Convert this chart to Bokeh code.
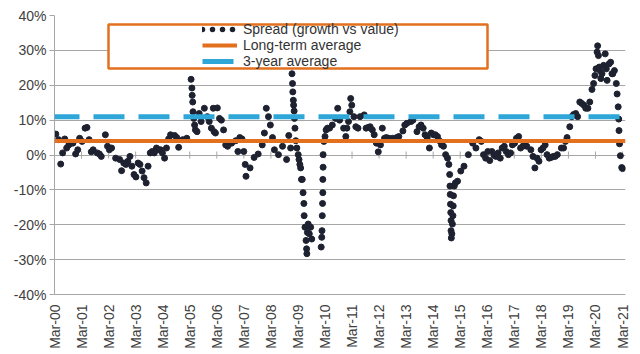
import numpy as np
from bokeh.plotting import figure
from bokeh.models import (Span, Legend, LegendItem, BoxAnnotation, FixedTicker, Range1d)
from bokeh.embed import file_html
from bokeh.resources import INLINE

# ---- data (x = years since Mar-2000, y = spread in %) ----
year_labels = ["Mar-00", "Mar-01", "Mar-02", "Mar-03", "Mar-04", "Mar-05", "Mar-06",
               "Mar-07", "Mar-08", "Mar-09", "Mar-10", "Mar-11", "Mar-12", "Mar-13",
               "Mar-14", "Mar-15", "Mar-16", "Mar-17", "Mar-18", "Mar-19", "Mar-20", "Mar-21"]
year_pos = [0, 1, 2, 3, 4, 5, 6, 7, 8, 9, 10, 11, 12, 13, 14, 15, 16, 17, 18, 19, 20, 21]

spread_t = [0.05, 0.15, 0.23, 0.30, 0.38, 0.45, 0.53, 0.68, 0.78, 0.86, 0.93, 1.02, 1.13, 1.20,
            1.28, 1.36, 1.43, 1.58, 1.66, 1.73, 1.88, 1.96, 2.03, 2.11, 2.26, 2.41, 2.48, 2.56,
            2.64, 2.71, 2.79, 2.86, 2.94, 3.01, 3.09, 3.16, 3.24, 3.31, 3.39, 3.46, 3.54, 3.61,
            3.69, 3.77, 3.84, 3.92, 3.99, 4.07, 4.14, 4.22, 4.29, 4.44, 4.52, 4.59, 4.74, 4.89,
            5.05, 5.08, 5.09, 5.11, 5.12, 5.15, 5.18, 5.21, 5.27, 5.35, 5.42, 5.54, 5.65, 5.72,
            5.80, 5.87, 5.90, 5.95, 6.02, 6.10, 6.17, 6.25, 6.33, 6.40, 6.55, 6.70, 6.78, 6.85,
            6.93, 7.00, 7.05, 7.08, 7.23, 7.38, 7.53, 7.68, 7.76, 7.83, 7.91, 7.98, 8.06, 8.13,
            8.28, 8.43, 8.58, 8.66, 8.73, 8.78, 8.80, 8.81, 8.83, 8.84, 8.86, 8.87, 8.89, 8.92,
            8.96, 9.01, 9.04, 9.07, 9.10, 9.13, 9.16, 9.19, 9.22, 9.23, 9.26, 9.30, 9.32, 9.33,
            9.35, 9.38, 9.42, 9.47, 9.51, 9.86, 9.88, 9.89, 9.90, 9.91, 9.92, 9.92, 9.93, 9.93,
            9.96, 10.00, 10.04, 10.09, 10.17, 10.27, 10.39, 10.47, 10.54, 10.69, 10.77, 10.81,
            10.87, 10.92, 10.95, 10.99, 11.07, 11.14, 11.22, 11.30, 11.45, 11.52, 11.60, 11.67,
            11.75, 11.82, 11.90, 11.97, 12.05, 12.12, 12.20, 12.27, 12.35, 12.42, 12.50, 12.65,
            12.73, 12.88, 12.95, 13.03, 13.18, 13.25, 13.40, 13.48, 13.55, 13.63, 13.70, 13.78,
            13.86, 13.93, 14.01, 14.08, 14.16, 14.23, 14.31, 14.38, 14.46, 14.53, 14.58, 14.61,
            14.62, 14.63, 14.64, 14.65, 14.66, 14.66, 14.67, 14.69, 14.71, 14.73, 14.74, 14.75,
            14.78, 14.82, 14.90, 15.02, 15.14, 15.30, 15.46, 15.58, 15.70, 15.78, 15.86, 15.94,
            16.02, 16.09, 16.17, 16.25, 16.32, 16.40, 16.48, 16.55, 16.63, 16.70, 16.78, 16.86,
            16.93, 17.01, 17.08, 17.16, 17.23, 17.31, 17.38, 17.46, 17.61, 17.69, 17.76, 17.84,
            17.91, 17.99, 18.06, 18.14, 18.21, 18.29, 18.36, 18.44, 18.51, 18.59, 18.74, 18.82,
            18.89, 18.95, 19.05, 19.12, 19.19, 19.27, 19.34, 19.42, 19.49, 19.57, 19.64, 19.72,
            19.79, 19.87, 19.93, 19.98, 20.02, 20.06, 20.08, 20.11, 20.14, 20.17, 20.20, 20.24,
            20.30, 20.36, 20.40, 20.43, 20.50, 20.56, 20.61, 20.64, 20.70, 20.77, 20.80, 20.84,
            20.86, 20.87, 20.89, 20.92, 20.97, 21.00]

spread_v = [6.0, 4.4, -2.6, 0.6, 4.6, 2.0, 2.9, 3.4, 0.3, 1.5, 4.8, 3.9, 7.7, 7.9,
            4.4, 0.9, 1.5, 0.6, 0.3, -0.4, 5.8, 2.5, 1.5, 2.0, -0.9, -1.3, -4.5, -2.3,
            -2.7, -1.8, -0.4, -3.2, -5.6, -6.3, -2.3, -2.7, -4.6, -6.5, -8.0, -3.2, 0.6, 1.0,
            0.6, 2.0, 1.5, 1.5, 0.6, -0.9, 2.0, 4.6, 5.8, 5.6, 5.0, 2.2, 4.4, 4.8,
            21.7, 19.2, 17.1, 15.2, 12.4, 10.5, 8.6, 7.2, 6.7, 11.9, 9.6, 13.4, 11.0, 9.6,
            7.7, 13.4, 6.7, 6.3, 13.5, 10.5, 10.0, 7.2, 2.9, 2.5, 3.4, 4.1, 1.0, 5.0,
            4.6, 1.0, -2.7, -6.1, -3.7, -0.7, 0.3, 2.9, 6.3, 13.4, 11.0, 8.6, 5.0, 1.5,
            0.1, 2.5, -1.3, 5.6, 2.0, 23.3, 20.5, 18.1, 15.7, 14.3, 12.6, 10.5, 7.7, 4.1,
            2.0, 0.1, -1.3, -2.7, -3.7, -7.0, -7.0, -10.8, -13.9, -17.4, -20.7, -24.5, -26.9, -28.3,
            -22.2, -19.8, -22.6, -20.7, -24.1, -26.4, -23.6, -21.7, -17.4, -13.9, -10.8, -7.0, -3.5, 0.1,
            3.9, 5.3, 7.2, 7.7, 7.7, 8.6, 10.5, 13.4, 10.0, 7.7, 5.3, 7.7,
            9.6, 12.4, 16.2, 14.3, 11.0, 8.1, 7.7, 11.0, 11.5, 7.7, 7.9, 8.1,
            7.2, 5.8, 3.4, 0.9, 2.9, 7.7, 4.8, 5.0, 4.8, 4.6, 4.8, 5.0,
            5.3, 6.9, 8.6, 9.1, 9.6, 10.0, 6.7, 8.1, 8.6, 7.7, 5.8, 5.0,
            2.0, 6.3, 5.8, 5.8, 5.3, 4.1, 2.9, 2.5, 0.1, -0.9, -2.7, -5.6,
            -8.9, -11.3, -14.1, -16.5, -18.8, -21.7, -23.8, -22.6, -19.8, -17.4, -14.6, -11.7,
            -8.9, -8.0, -7.5, -4.6, -3.2, 0.1, 3.4, 2.0, 4.4, 3.9, 0.1, -0.9,
            1.0, -1.6, 1.0, -0.1, -0.4, 0.6, -0.9, 2.0, 2.5, 1.0, 0.1, 0.6,
            2.9, 3.4, 4.8, 5.3, 2.0, 2.5, 2.9, 2.5, 1.5, -0.4, -3.7, -0.9,
            -1.8, 1.5, 2.0, 2.9, 0.1, -0.9, -0.7, -0.4, -0.4, 0.1, 2.0, 2.0,
            3.9, 5.0, 8.1, 11.0, 11.6, 11.9, 11.0, 15.2, 14.8, 14.3, 13.4, 13.4,
            15.2, 18.8, 20.5, 22.8, 24.7, 29.5, 31.3, 28.5, 25.2, 24.2, 21.9, 23.3,
            25.7, 29.0, 24.7, 21.4, 26.1, 26.6, 23.3, 23.3, 24.2, 20.5, 17.5, 13.8,
            10.3, 7.0, 3.2, -0.2, -3.6, -3.9]

long_term_avg = 4.0
three_year_avg = 11.0
y_ticks = [-40, -30, -20, -10, 0, 10, 20, 30, 40]
y_labels = ["-40%", "-30%", "-20%", "-10%", "0%", "10%", "20%", "30%", "40%"]

series_labels = ["Spread (growth vs value)", "Long-term average", "3-year average"]

# ---- styles ----
DOT = "#1e2230"
ORANGE = "#E2701E"
BLUE = "#2EA7D8"
GRID = "#a6a6a6"
TEXT = "#404040"
FONT = "Liberation Sans"

n = min(len(spread_t), len(spread_v))
nan = float("nan")

p = figure(width=640, height=354, output_backend="svg", toolbar_location=None,
           x_range=Range1d(0, 21.11), y_range=Range1d(-40, 40),
           min_border_left=54, min_border_right=15, min_border_top=15, min_border_bottom=60)
p.outline_line_color = None
p.background_fill_color = "white"
p.border_fill_color = "white"

p.xgrid.visible = False
p.ygrid.ticker = FixedTicker(ticks=y_ticks)
p.ygrid.grid_line_color = GRID
p.ygrid.grid_line_width = 1

p.yaxis.ticker = FixedTicker(ticks=y_ticks)
p.yaxis.major_label_overrides = {t: l for t, l in zip(y_ticks, y_labels)}
p.yaxis.axis_line_color = GRID
p.yaxis.major_tick_line_color = GRID
p.yaxis.major_tick_out = 5
p.yaxis.major_tick_in = 0
p.yaxis.minor_tick_line_color = None
p.yaxis.major_label_text_font = FONT
p.yaxis.major_label_text_font_size = "14px"
p.yaxis.major_label_text_color = TEXT
p.yaxis.major_label_standoff = 3

p.xaxis.ticker = FixedTicker(ticks=year_pos)
p.xaxis.major_label_overrides = {t: l for t, l in zip(year_pos, year_labels)}
p.xaxis.major_label_orientation = np.pi / 2
p.xaxis.major_tick_line_color = None
p.xaxis.minor_tick_line_color = None
p.xaxis.axis_line_color = GRID
p.xaxis.major_label_text_font = FONT
p.xaxis.major_label_text_font_size = "14px"
p.xaxis.major_label_text_color = TEXT
p.xaxis.major_label_standoff = 4

# tick marks on the zero (category) line
tick_half = 1.0
p.segment(x0=year_pos, y0=[-tick_half] * len(year_pos), x1=year_pos,
          y1=[tick_half] * len(year_pos), line_color=GRID, line_width=1)

# spread dots
p.scatter(spread_t[:n], spread_v[:n], size=6, color=DOT)

# averages
p.add_layout(Span(location=long_term_avg, dimension="width", line_color=ORANGE, line_width=4))
p.add_layout(Span(location=three_year_avg, dimension="width", line_color=BLUE, line_width=5,
                  line_dash="31 14", line_dash_offset=6))

# legend proxies (not visible in the plot area)
r_dots = p.line(x=[nan, nan], y=[nan, nan], line_color=DOT, line_width=5.5,
                line_dash="0 10", line_cap="round")
r_lt = p.line(x=[nan, nan], y=[nan, nan], line_color=ORANGE, line_width=4)
r_3y = p.line(x=[nan, nan], y=[nan, nan], line_color=BLUE, line_width=5, line_dash="31 14")

box = BoxAnnotation(left=108, right=487, top=24, bottom=68,
                    left_units="canvas", right_units="canvas",
                    top_units="canvas", bottom_units="canvas",
                    fill_color="white", fill_alpha=1.0,
                    line_color=ORANGE, line_alpha=1.0, line_width=2.5)
p.add_layout(box)

legend = Legend(items=[LegendItem(label=series_labels[0], renderers=[r_dots]),
                       LegendItem(label=series_labels[1], renderers=[r_lt]),
                       LegendItem(label=series_labels[2], renderers=[r_3y])],
                location=(148, 225), padding=0, margin=0, spacing=-4,
                glyph_width=35, glyph_height=14, label_height=14, label_standoff=6,
                border_line_color=None, background_fill_alpha=0,
                label_text_font="Liberation Sans, Arial, sans-serif",
                label_text_font_size="14px", label_text_color="#333333")
p.add_layout(legend)

open("out.html", "w").write(file_html(p, INLINE))
